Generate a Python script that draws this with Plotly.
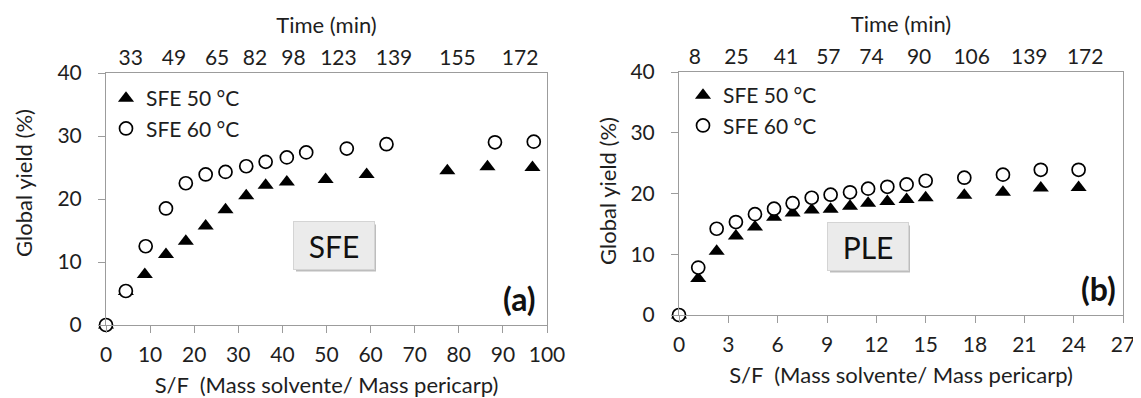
import plotly.graph_objects as go

W, H = 1141, 398
OFF = 8  # the page body margin shifts the figure by this many pixels

# ---------------- data ----------------
# Panel (a) SFE
a_sf_50 = [0, 4.5, 8.8, 13.6, 18.1, 22.6, 27.1, 31.8, 36.2, 41.0, 49.8, 59.1, 77.4, 86.5, 96.7]
a_y_50 = [0, 5.3, 8.0, 11.2, 13.3, 15.7, 18.3, 20.5, 22.2, 22.7, 23.1, 23.9, 24.5, 25.1, 25.0]
a_sf_60 = [0, 4.5, 9.0, 13.6, 18.1, 22.6, 27.1, 31.8, 36.2, 41.0, 45.4, 54.6, 63.6, 88.2, 97.0]
a_y_60 = [0, 5.4, 12.5, 18.5, 22.5, 23.9, 24.3, 25.2, 25.9, 26.6, 27.4, 28.0, 28.7, 29.0, 29.1]
a_time_pos = [5.6, 15.4, 25.2, 33.8, 42.5, 52.7, 65.3, 79.7, 93.9]
a_time_lbl = ["33", "49", "65", "82", "98", "123", "139", "155", "172"]

# Panel (b) PLE
b_sf = [0, 1.17, 2.29, 3.46, 4.62, 5.78, 6.91, 8.07, 9.22, 10.4, 11.5, 12.67, 13.84, 15.0,
        17.35, 19.7, 22.0, 24.3]
b_y_50 = [0, 6.0, 10.5, 13.0, 14.5, 16.1, 16.8, 17.3, 17.4, 17.9, 18.4, 18.7, 19.0, 19.3,
          19.7, 20.2, 20.9, 21.0]
b_y_60 = [0, 7.8, 14.2, 15.3, 16.6, 17.5, 18.4, 19.3, 19.8, 20.2, 20.8, 21.1, 21.5, 22.1,
          22.6, 23.1, 23.9, 23.9]
b_time_pos = [0.97, 3.5, 6.5, 9.08, 11.7, 14.6, 17.8, 21.3, 24.7]
b_time_lbl = ["8", "25", "41", "57", "74", "90", "106", "139", "172"]

series_names = ["SFE 50 °C", "SFE 60 °C"]

# ---------------- helpers (screen pixels -> paper fractions) ----------------
def px(x):
    return (x - OFF) / W

def py(y):
    return 1 - (y - OFF) / H

FONT = "Lato, 'Open Sans', sans-serif"
TXT = "#1e1e1e"
AX = "#9c9c9c"

tri = dict(symbol="triangle-up", size=14, color="black", line=dict(width=0))
circ = dict(symbol="circle", size=13, color="white", line=dict(color="black", width=1.7))

fig = go.Figure()
fig.add_trace(go.Scatter(x=a_sf_50, y=a_y_50, mode="markers", marker=tri, name=series_names[0],
                         xaxis="x", yaxis="y", legend="legend", cliponaxis=False))
fig.add_trace(go.Scatter(x=a_sf_60, y=a_y_60, mode="markers", marker=circ, name=series_names[1],
                         xaxis="x", yaxis="y", legend="legend", cliponaxis=False))
fig.add_trace(go.Scatter(x=b_sf, y=b_y_50, mode="markers", marker=tri, name=series_names[0],
                         xaxis="x2", yaxis="y2", legend="legend2", cliponaxis=False))
fig.add_trace(go.Scatter(x=b_sf, y=b_y_60, mode="markers", marker=circ, name=series_names[1],
                         xaxis="x2", yaxis="y2", legend="legend2", cliponaxis=False))
# empty traces so that the secondary (time) axes are drawn
fig.add_trace(go.Scatter(x=[], y=[], mode="markers", xaxis="x3", yaxis="y",
                         showlegend=False, hoverinfo="skip"))
fig.add_trace(go.Scatter(x=[], y=[], mode="markers", xaxis="x4", yaxis="y2",
                         showlegend=False, hoverinfo="skip"))

# plot areas (screen pixels)
A = dict(l=106, r=547, t=73, b=325)
B = dict(l=679, r=1123, t=72, b=315)

tickfont = dict(family=FONT, size=21, color=TXT)
titlefont = dict(family=FONT, size=22, color=TXT)

def xbottom(dom, rng, dtick, anchor):
    return dict(domain=dom, range=rng, dtick=dtick, tick0=0, anchor=anchor, automargin=False,
                showline=True, linecolor=AX, linewidth=1, mirror=True,
                ticks="outside", ticklen=7, tickcolor=AX, showgrid=False, zeroline=False,
                tickfont=tickfont, ticklabelstandoff=4,
                title=dict(text="S/F  (Mass solvente/ Mass pericarp)", font=titlefont, standoff=12))

def yleft(dom, anchor):
    return dict(domain=dom, range=[0, 40], dtick=10, anchor=anchor, automargin=False,
                showline=True, linecolor=AX, linewidth=1, mirror=True,
                ticks="outside", ticklen=7, tickcolor=AX, showgrid=False, zeroline=False,
                tickfont=tickfont, ticklabelstandoff=12)

def xtop(overlay, rng, vals, lbls, anchor):
    return dict(overlaying=overlay, side="top", range=rng, anchor=anchor, automargin=False,
                tickmode="array", tickvals=vals, ticktext=lbls, ticks="",
                showline=False, showgrid=False, zeroline=False,
                tickfont=tickfont, ticklabelstandoff=3,
                title=dict(text="Time (min)", font=titlefont, standoff=4))

xa = [px(A["l"]), px(A["r"])]
ya = [py(A["b"]), py(A["t"])]
xb = [px(B["l"]), px(B["r"])]
yb = [py(B["b"]), py(B["t"])]

legend_common = dict(font=dict(family=FONT, size=21, color=TXT), bgcolor="rgba(0,0,0,0)",
                     xanchor="left", yanchor="top", itemwidth=30, tracegroupgap=0,
                     borderwidth=0)

fig.update_layout(
    width=W, height=H, autosize=False,
    margin=dict(l=0, r=0, t=0, b=0),
    paper_bgcolor="white", plot_bgcolor="white",
    font=dict(family=FONT, color=TXT),
    showlegend=True,
    xaxis=xbottom(xa, [0, 100], 10, "y"),
    yaxis=yleft(ya, "x"),
    xaxis2=xbottom(xb, [0, 27], 3, "y2"),
    yaxis2=yleft(yb, "x2"),
    xaxis3=xtop("x", [0, 100], a_time_pos, a_time_lbl, "y"),
    xaxis4=xtop("x2", [0, 27], b_time_pos, b_time_lbl, "y2"),
    legend=dict(x=px(106), y=py(78), **legend_common),
    legend2=dict(x=px(683), y=py(75), **legend_common),
)

# y-axis titles as annotations (placed as in the reference)
for xc, yc in [(24, 183), (607, 191)]:
    fig.add_annotation(text="Global yield (%)", xref="paper", yref="paper",
                       x=px(xc), y=py(yc), textangle=-90, showarrow=False,
                       font=titlefont, xanchor="center", yanchor="middle")

# method label boxes with a soft shadow
for label, cx, cy in [("SFE", 334, 245), ("PLE", 868, 246)]:
    bw, bh = 80, 47
    fig.add_shape(type="rect", xref="paper", yref="paper",
                  x0=px(cx - bw / 2 + 2), x1=px(cx + bw / 2 + 2),
                  y0=py(cy + bh / 2 + 3), y1=py(cy - bh / 2 + 3),
                  fillcolor="#bdbdbd", line=dict(width=0), layer="above")
    fig.add_annotation(text=label, xref="paper", yref="paper", x=px(cx), y=py(cy),
                       showarrow=False, width=bw, height=bh, bgcolor="#ebebeb",
                       bordercolor="#d4d4d4", borderwidth=1, borderpad=0,
                       font=dict(family=FONT, size=30, color="#111111"),
                       xanchor="center", yanchor="middle")

# panel letters
for label, rx, cy in [("<b>(a)</b>", 538, 298), ("<b>(b)</b>", 1118, 288)]:
    fig.add_annotation(text=label, xref="paper", yref="paper", x=px(rx), y=py(cy),
                       showarrow=False, font=dict(family=FONT, size=32, color="#111111"),
                       xanchor="right", yanchor="middle")

fig.write_html("out.html")
